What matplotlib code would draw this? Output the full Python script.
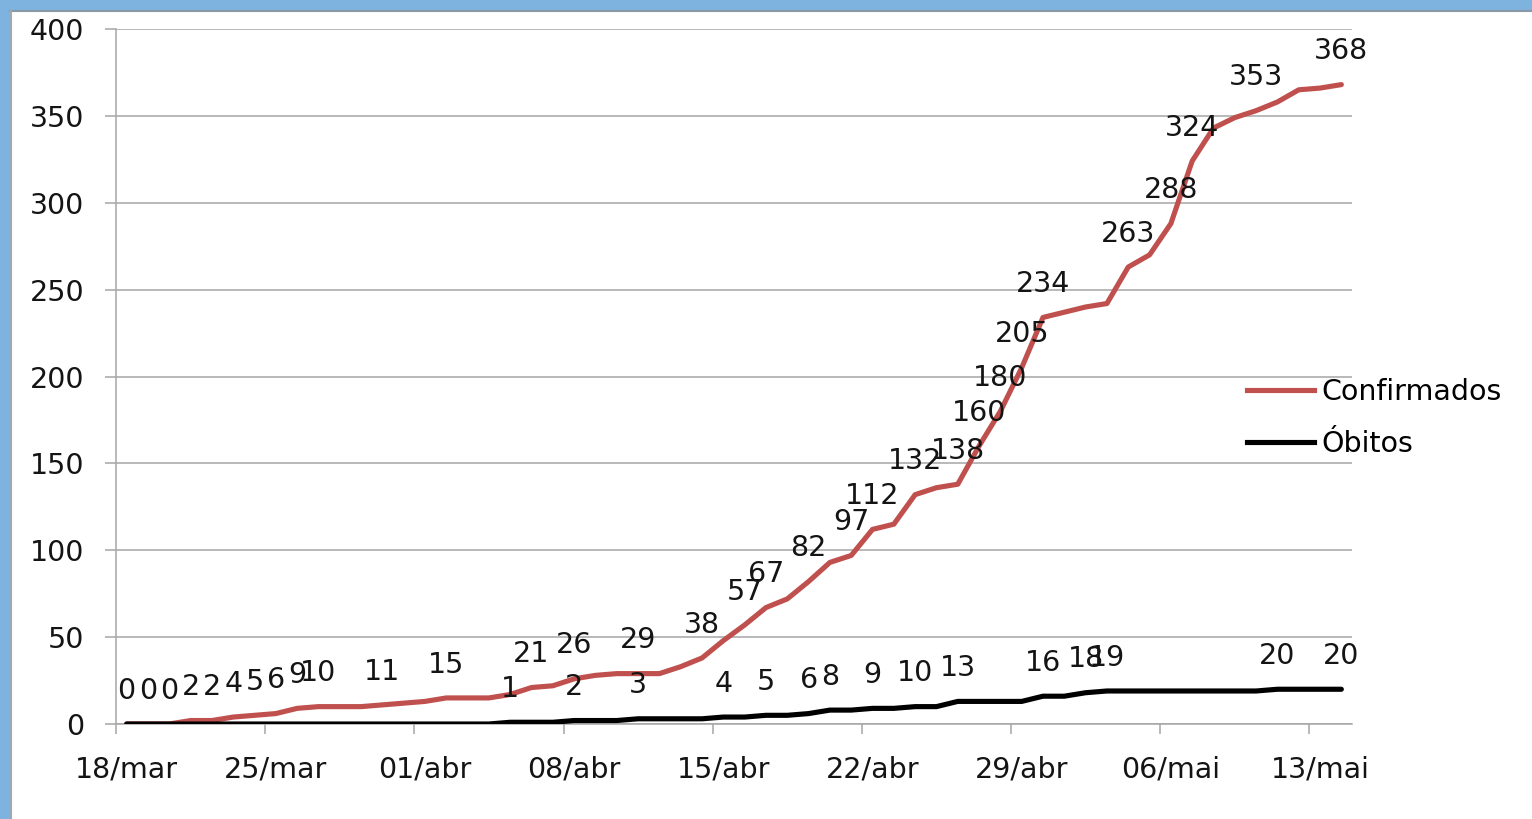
import matplotlib
matplotlib.use("Agg")
import matplotlib.pyplot as plt
import numpy as np
import pandas as pd
from matplotlib.patches import Rectangle
from matplotlib.lines import Line2D

# ---------------- data ----------------
dates = pd.date_range("2020-03-18", "2020-05-14", freq="D")
confirmados = [0, 0, 0, 2, 2, 4, 5, 6, 9, 10, 10, 10, 11, 12,          # 18-31 mar
               13, 15, 15, 15, 17, 21, 22, 26, 28, 29, 29, 29, 33, 38,  # 01-14 abr
               48, 57, 67, 72, 82, 93, 97, 112, 115, 132, 136, 138,     # 15-26 abr
               160, 180, 205, 234,                                      # 27-30 abr
               237, 240, 242, 263, 270, 288, 324, 343, 349, 353,        # 01-10 mai
               358, 365, 366, 368]                                      # 11-14 mai
obitos = [0] * 14 + [0, 0, 0, 0, 1, 1, 1, 2, 2, 2, 3, 3, 3, 3,
                     4, 4, 5, 5, 6, 8, 8, 9, 9, 10, 10, 13, 13, 13, 13, 16] + \
         [16, 18, 19, 19, 19, 19, 19, 19, 19, 19, 20, 20, 20, 20]

# dates (day index) that carry a data label
conf_label_idx = [0, 1, 2, 3, 4, 5, 6, 7, 8, 9, 12, 15, 19, 21, 24, 27, 29, 30,
                  32, 34, 35, 37, 39, 40, 41, 42, 43, 47, 49, 50, 53, 57]
obit_label_idx = [18, 21, 24, 28, 30, 32, 33, 35, 37, 39, 43, 45, 46, 54, 57]

tick_labels = ["18/mar", "25/mar", "01/abr", "08/abr", "15/abr",
               "22/abr", "29/abr", "06/mai", "13/mai"]
series_names = ["Confirmados", "Óbitos"]

# ---------------- figure ----------------
plt.rcParams['font.family'] = ['DejaVu Sans']
W, H = 1532, 819
fig = plt.figure(figsize=(W / 100, H / 100), dpi=100)
fig.patch.set_facecolor("white")

ax = fig.add_axes([116 / W, 1 - 724 / H, (1352 - 116) / W, (724 - 29) / H])

x = np.arange(len(dates))
red = "#c0504d"
ax.plot(x, confirmados, color=red, lw=3.7, solid_joinstyle="round",
        solid_capstyle="round", zorder=3)
ax.plot(x, obitos, color="black", lw=3.7, solid_joinstyle="round",
        solid_capstyle="round", zorder=3)

fs = 20.5
txt_c = "#141414"
for i in conf_label_idx:
    ax.annotate(str(confirmados[i]), (x[i], confirmados[i]), xytext=(0, 24),
                textcoords="offset points", ha="center", va="center",
                fontsize=fs, color=txt_c, zorder=4)
for i in obit_label_idx:
    ax.annotate(str(obitos[i]), (x[i], obitos[i]), xytext=(0, 24),
                textcoords="offset points", ha="center", va="center",
                fontsize=fs, color=txt_c, zorder=4)

ax.set_xlim(-0.5, len(dates) - 0.5)
ax.set_ylim(0, 400)

grid_c = "#a6a6a6"
ax.set_yticks(np.arange(0, 401, 50))
ax.yaxis.grid(True, color=grid_c, lw=1.1)
ax.set_axisbelow(True)

# major ticks between dates (tick marks), labels on dates (minor ticks)
major_pos = np.arange(0, len(dates), 7) - 0.5
ax.set_xticks(major_pos)
ax.set_xticklabels([])
ax.set_xticks(np.arange(0, len(dates), 7), minor=True)
ax.set_xticklabels(tick_labels, minor=True)
ax.tick_params(axis="x", which="major", length=7, width=1.1, color=grid_c,
               direction="out")
ax.tick_params(axis="x", which="minor", length=0, pad=23, labelsize=fs,
               labelcolor=txt_c)
ax.tick_params(axis="y", length=8, width=1.1, color=grid_c, pad=15,
               labelsize=fs, labelcolor=txt_c)

for s in ["top", "right"]:
    ax.spines[s].set_visible(False)
for s in ["left", "bottom"]:
    ax.spines[s].set_color(grid_c)
    ax.spines[s].set_linewidth(1.1)

handles = [Line2D([], [], color=red, lw=3.7), Line2D([], [], color="black", lw=3.7)]
fig.legend(handles, series_names, loc="center left",
           bbox_to_anchor=(1247 / W, 1 - 418 / H), frameon=False, fontsize=fs,
           handlelength=2.35, handletextpad=0.25, borderpad=0, borderaxespad=0,
           labelspacing=0.82)

# blue frame
blue = "#7fb3df"
fig.patches.append(Rectangle((0, 1 - 10 / H), 1, 10 / H, transform=fig.transFigure,
                             color=blue, zorder=0))
fig.patches.append(Rectangle((0, 0), 10 / W, 1, transform=fig.transFigure,
                             color=blue, zorder=0))
fig.lines.append(Line2D([10 / W, 1], [1 - 11 / H, 1 - 11 / H], transform=fig.transFigure,
                        color="#8a97a5", lw=1.5))
fig.lines.append(Line2D([11 / W, 11 / W], [0, 1 - 11 / H], transform=fig.transFigure,
                        color="#a0a8b0", lw=1.5))

fig.savefig("out.png", dpi=100)
